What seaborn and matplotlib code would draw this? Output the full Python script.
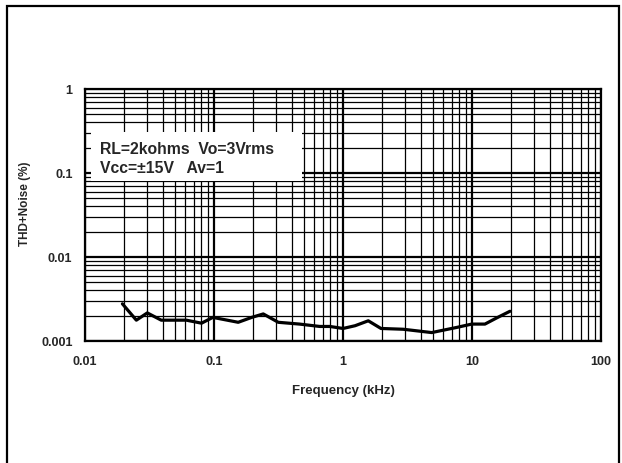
import matplotlib
matplotlib.use("Agg")
import matplotlib.pyplot as plt
import matplotlib.patches as mpatches
from matplotlib.ticker import LogLocator, NullFormatter, FixedLocator, FixedFormatter
import seaborn as sns
import pandas as pd

# THD+N vs frequency
freq_khz = [0.0195, 0.025, 0.0304, 0.039, 0.061, 0.080, 0.098, 0.154, 0.196, 0.241,
            0.315, 0.46, 0.66, 0.79, 1.0, 1.24, 1.57, 1.97, 2.93, 4.87,
            7.6, 9.95, 12.6, 15.5, 19.7]
thd_pct = [0.00277, 0.00177, 0.00216, 0.00177, 0.00177, 0.00163, 0.00191, 0.00167, 0.00191, 0.0021,
           0.00167, 0.00159, 0.00149, 0.00149, 0.00141, 0.00152, 0.00174, 0.00141, 0.00138, 0.00126,
           0.00145, 0.00159, 0.00159, 0.00188, 0.00226]

x_ticks = [0.01, 0.1, 1, 10, 100]
x_ticklabels = ["0.01", "0.1", "1", "10", "100"]
y_ticks = [0.001, 0.01, 0.1, 1]
y_ticklabels = ["0.001", "0.01", "0.1", "1"]
note_lines = ["RL=2kohms  Vo=3Vrms", "Vcc=\u00b115V   Av=1"]

sns.set_style("white")
plt.rcParams['font.family'] = ['Liberation Sans', 'DejaVu Sans']
plt.rcParams['font.weight'] = 'bold'

df = pd.DataFrame({"f": freq_khz, "thd": thd_pct})

fig = plt.figure(figsize=(6.22, 4.64), dpi=100)
ax = fig.add_axes([85 / 622, 1 - 342 / 464, 516 / 622, 252 / 464])

sns.lineplot(data=df, x="f", y="thd", ax=ax, color="black", linewidth=2.3, zorder=4)

ax.set_xscale("log")
ax.set_yscale("log")
ax.set_xlim(0.01, 100)
ax.set_ylim(0.001, 1)

ax.xaxis.set_major_locator(FixedLocator(x_ticks))
ax.xaxis.set_major_formatter(FixedFormatter(x_ticklabels))
ax.yaxis.set_major_locator(FixedLocator(y_ticks))
ax.yaxis.set_major_formatter(FixedFormatter(y_ticklabels))
for axis in (ax.xaxis, ax.yaxis):
    axis.set_minor_locator(LogLocator(base=10, subs=range(2, 10)))
    axis.set_minor_formatter(NullFormatter())

ax.set_axisbelow(True)
ax.grid(which="minor", color="black", linewidth=0.9)
ax.grid(which="major", color="black", linewidth=1.6)
ax.tick_params(which="both", length=0)
ax.tick_params(axis="x", pad=10, labelsize=9)
ax.tick_params(axis="y", pad=9, labelsize=9)
for s in ax.spines.values():
    s.set_color("black")
    s.set_linewidth(1.6)

ax.set_xlabel("Frequency (kHz)", fontsize=9.5, fontweight="bold")
ax.set_ylabel("THD+Noise (%)", fontsize=8.5, fontweight="bold")
ax.xaxis.set_label_coords(0.5, -0.17)
ax.yaxis.set_label_coords(-0.105, 0.55)

# condition box
ax.add_patch(mpatches.Rectangle((0.012, 0.635), 0.408, 0.194, transform=ax.transAxes,
                                facecolor="white", edgecolor="none", zorder=3))
ax.text(0.029, 0.762, note_lines[0], transform=ax.transAxes, fontsize=11.3,
        fontweight="bold", va="center", ha="left", zorder=5)
ax.text(0.029, 0.687, note_lines[1], transform=ax.transAxes, fontsize=11.3,
        fontweight="bold", va="center", ha="left", zorder=5)

# outer frame (bottom edge cut off)
fig.add_artist(mpatches.Rectangle((7 / 622, -0.05), 612 / 622, 1.05 - 7 / 464,
                                  transform=fig.transFigure, facecolor="none",
                                  edgecolor="black", linewidth=1.6))

fig.savefig("out.png", dpi=100)
